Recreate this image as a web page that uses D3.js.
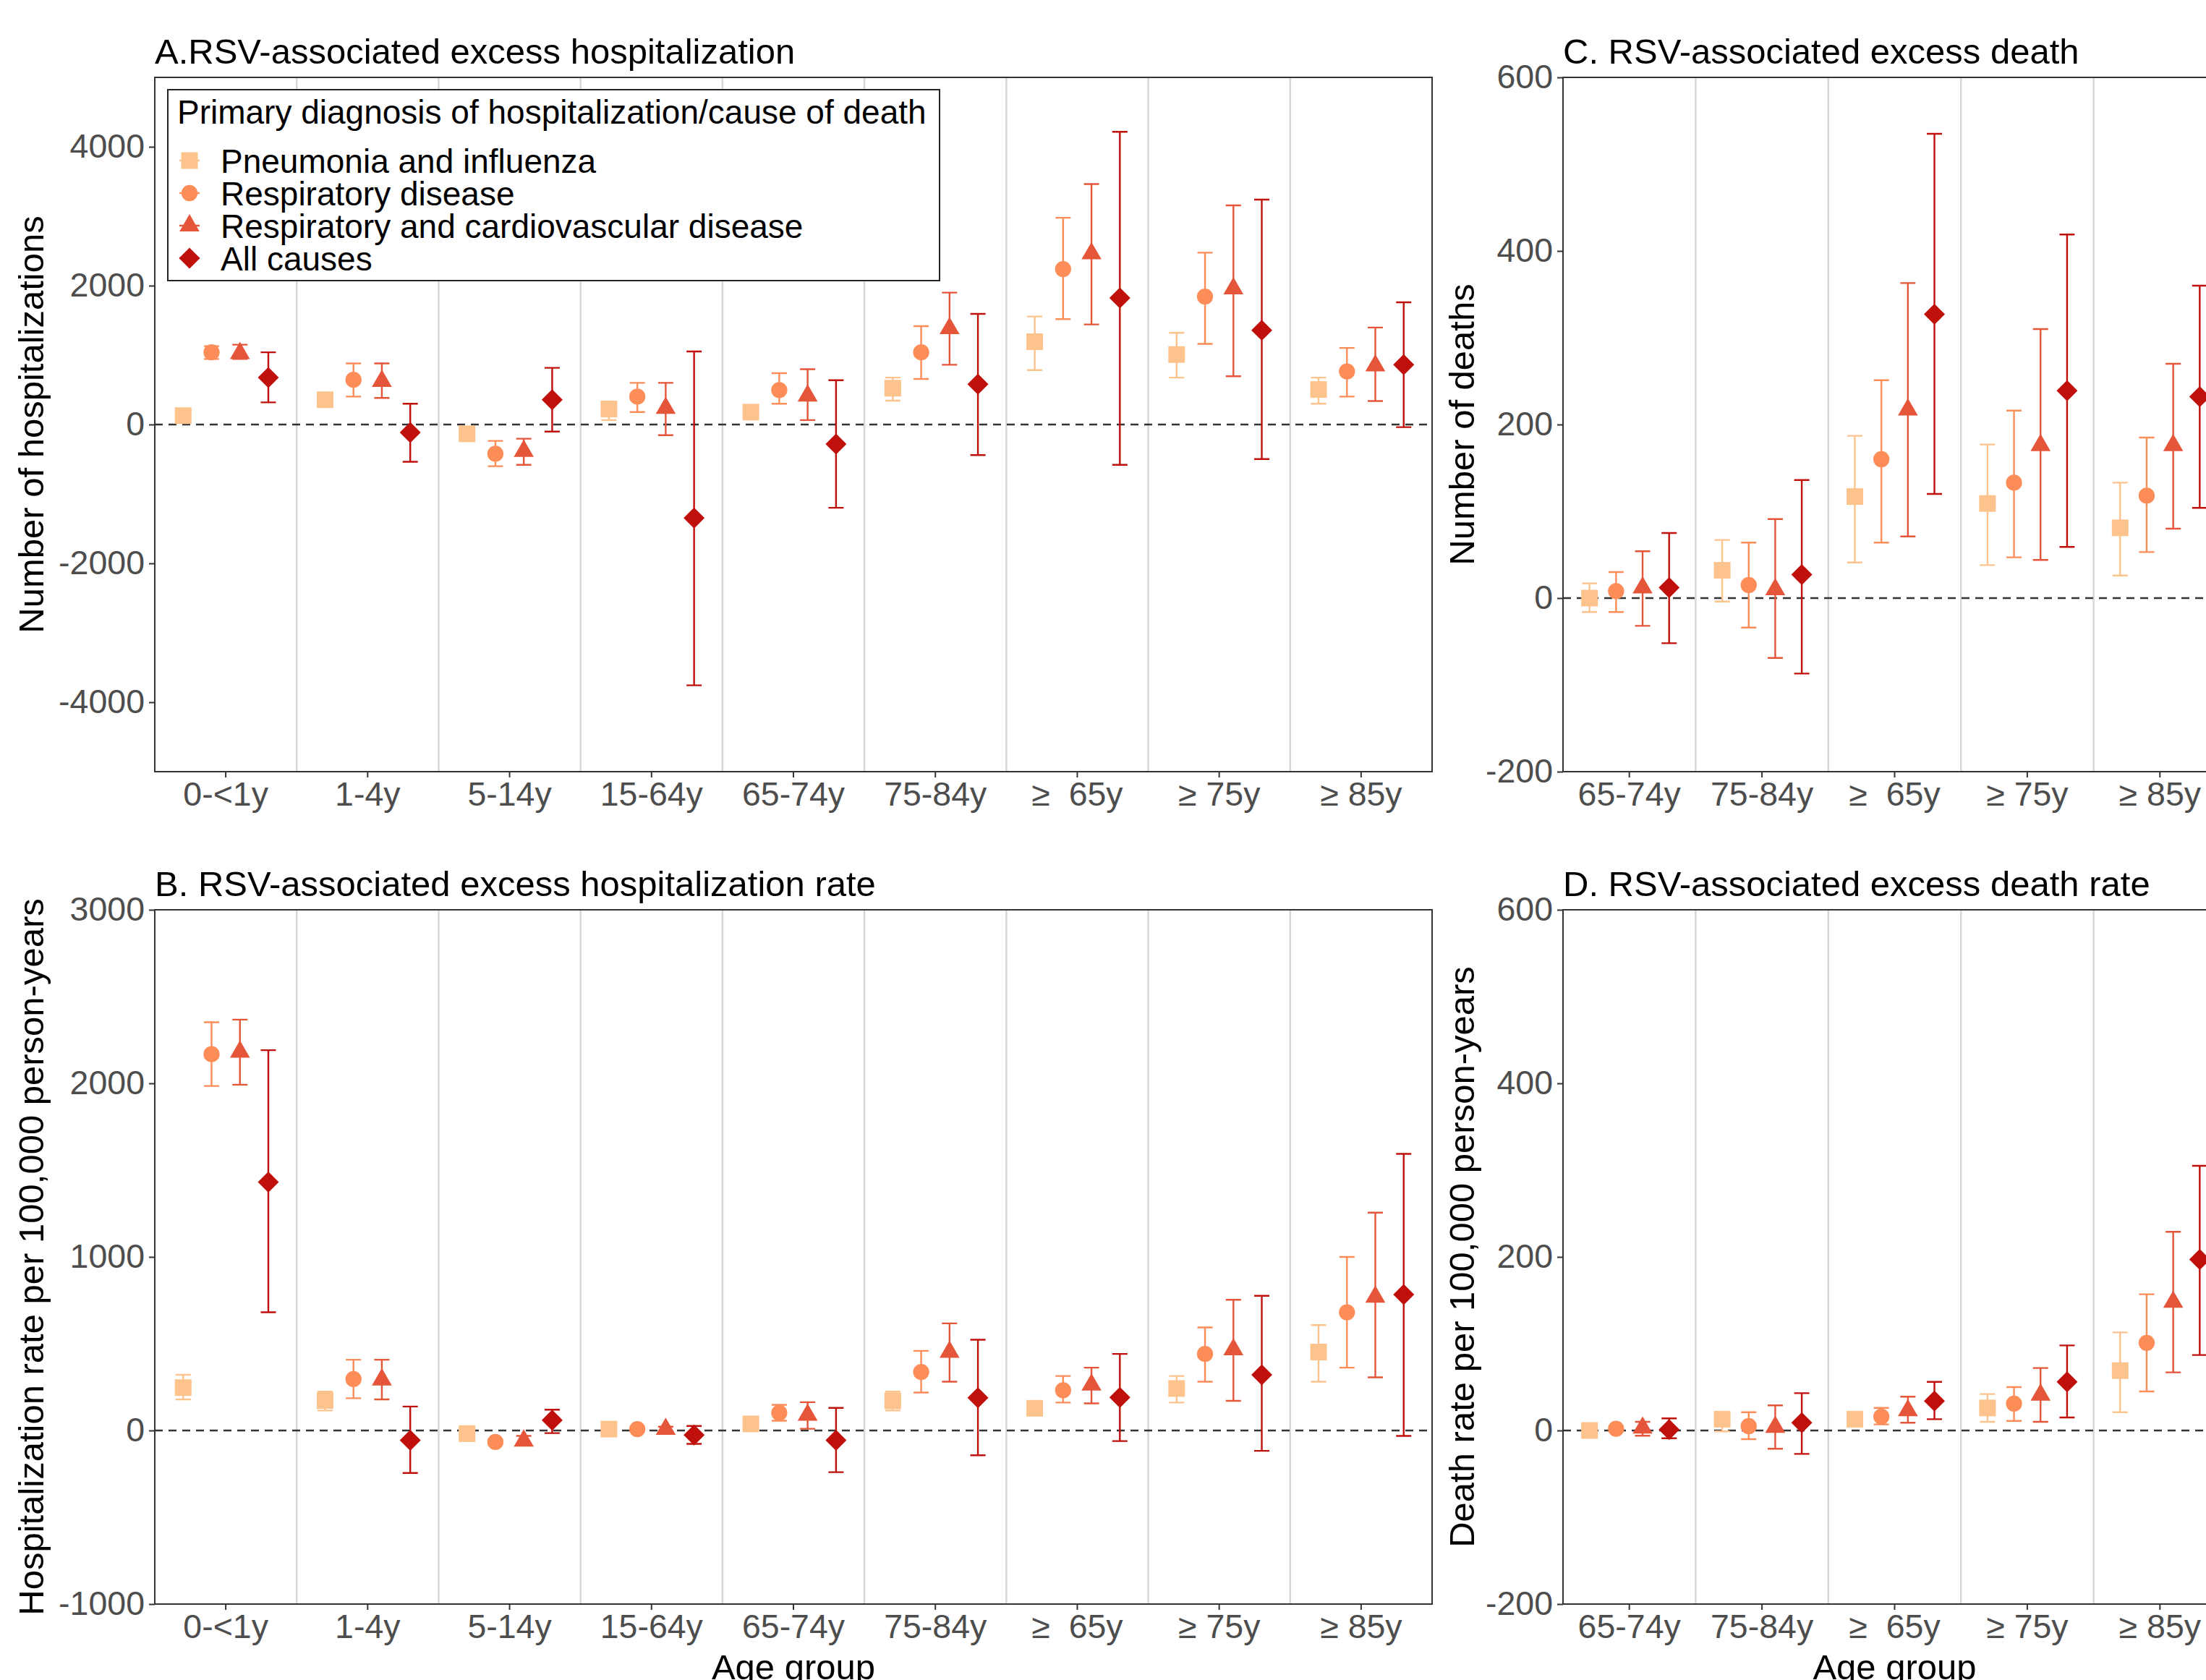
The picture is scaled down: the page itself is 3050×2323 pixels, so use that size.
<!DOCTYPE html>
<html>
<head>
<meta charset="utf-8">
<script src="https://cdn.jsdelivr.net/npm/d3@7"></script>
<style>
  body { margin: 0; overflow: hidden; background: #fff; }
  svg { font-family: "Liberation Sans", Arial, sans-serif; }
</style>
</head>
<body>
<svg id="chart" width="3100" height="2323"></svg>
<script>
// age groups
var groupsAll = ["0-<1y", "1-4y", "5-14y", "15-64y", "65-74y", "75-84y", "\u2265  65y", "\u2265 75y", "\u2265 85y"];
var groupsOld = ["65-74y", "75-84y", "\u2265  65y", "\u2265 75y", "\u2265 85y"];

var causes = ["Pneumonia and influenza", "Respiratory disease",
              "Respiratory and cardiovascular disease", "All causes"];
var colors = ["#FDC38D", "#FC8D59", "#E5553A", "#C0100C"];

// A. excess hospitalizations (rows = causes, cols = groupsAll)
var hospEst = [
  [128, 357, -134, 223, 179, 523, 1193, 1008, 504],
  [1040, 644, -421, 402, 497, 1040, 2239, 1843, 765],
  [1027, 625, -383, 236, 415, 1384, 2462, 1958, 848],
  [676, -115, 357, -1346, -281, 580, 1824, 1358, 861]
];
var hospLo = [
  [75, 300, -180, 64, 130, 344, 784, 676, 300],
  [944, 402, -600, 179, 300, 657, 1518, 1161, 402],
  [944, 383, -580, -153, 64, 861, 1441, 695, 338],
  [319, -536, -102, -3757, -1199, -440, -580, -497, -38]
];
var hospHi = [
  [180, 420, -90, 330, 230, 676, 1556, 1320, 676],
  [1129, 880, -236, 600, 740, 1416, 2978, 2475, 1103],
  [1150, 880, -204, 600, 797, 1900, 3463, 3157, 1397],
  [1040, 300, 816, 1052, 638, 1594, 4216, 3240, 1760]
];

// B. excess hospitalization rate per 100,000
var hrateEst = [
  [247, 173, -18, 8, 38, 171, 128, 242, 452],
  [2168, 296, -66, 8, 102, 337, 232, 441, 681],
  [2181, 293, -59, 8, 89, 452, 263, 467, 770],
  [1431, -56, 59, -26, -56, 189, 191, 321, 783]
];
var hrateLo = [
  [179, 115, -35, -5, 20, 115, 100, 161, 281],
  [1985, 186, -80, -3, 56, 219, 161, 281, 362],
  [1992, 179, -82, -3, 10, 281, 156, 171, 306],
  [681, -245, -15, -77, -240, -143, -61, -117, -31]
];
var hrateHi = [
  [321, 224, 0, 20, 55, 224, 155, 314, 607],
  [2352, 408, -52, 20, 148, 459, 314, 594, 1000],
  [2367, 408, -31, 22, 163, 617, 362, 753, 1255],
  [2191, 138, 120, 26, 130, 523, 441, 776, 1594]
];

// C. excess deaths (cols = groupsOld)
var deathEst = [
  [0, 32, 117, 109, 81],
  [8, 15, 160, 133, 118],
  [12, 10, 217, 176, 176],
  [12, 27, 327, 239, 232]
];
var deathLo = [
  [-16, -4, 41, 38, 26],
  [-16, -34, 64, 47, 53],
  [-32, -69, 71, 44, 80],
  [-52, -87, 120, 59, 104]
];
var deathHi = [
  [17, 67, 187, 177, 133],
  [30, 64, 251, 216, 185],
  [54, 91, 363, 310, 270],
  [75, 136, 535, 419, 360]
];

// D. excess death rate per 100,000
var drateEst = [
  [0, 13, 13, 26, 69],
  [2, 5, 16, 31, 101],
  [3, 4, 23, 41, 148],
  [1, 9, 34, 56, 197]
];
var drateLo = [
  [-3, -1, 8, 10, 21],
  [-1, -10, 7, 11, 45],
  [-6, -21, 9, 10, 67],
  [-9, -27, 13, 15, 87]
];
var drateHi = [
  [3, 20, 18, 42, 113],
  [5, 21, 26, 50, 157],
  [10, 29, 39, 72, 229],
  [14, 43, 56, 98, 305]
];

var svg = d3.select("#chart");

// marker shapes, ggplot pch 15/16/17/18 (diamond = rotated square)
var shapes = [
  d3.symbol().type(d3.symbolSquare).size(529),
  d3.symbol().type(d3.symbolCircle).size(390),
  d3.symbol().type(d3.symbolTriangle).size(330),
  d3.symbol().type(d3.symbolSquare).size(420)
];

function drawPanel(p) {
  var g = svg.append("g").attr("transform", "translate(" + p.left + "," + p.top + ")");

  var x = d3.scaleBand().domain(p.groups).range([0, p.width]);
  var dodge = d3.scaleBand().domain(d3.range(4)).range([0.1 * x.bandwidth(), 0.9 * x.bandwidth()]);
  var y = d3.scaleLinear().domain(p.domain).range([p.height, 0]);

  // vertical separators between age groups
  g.append("g").selectAll("line")
    .data(p.groups.slice(1))
    .enter().append("line")
      .attr("x1", d => x(d)).attr("x2", d => x(d))
      .attr("y1", 0).attr("y2", p.height)
      .attr("stroke", "#D6D6D6").attr("stroke-width", 2.5);

  // zero reference
  g.append("line")
    .attr("x1", 0).attr("x2", p.width)
    .attr("y1", y(0)).attr("y2", y(0))
    .attr("stroke", "#333").attr("stroke-width", 2.5)
    .attr("stroke-dasharray", "11,8");

  // error bars then points, one series at a time
  for (var k = 0; k < 4; k++) {
    var rows = p.groups.map((grp, i) => ({
      cx: x(grp) + dodge(k) + dodge.bandwidth() / 2,
      est: p.est[k][i], lo: p.lo[k][i], hi: p.hi[k][i]
    }));
    var eb = g.append("g").attr("stroke", colors[k]).attr("stroke-width", 2.4).attr("fill", "none");
    eb.selectAll("path").data(rows).enter().append("path")
      .attr("d", d => "M" + (d.cx - 10.5) + "," + y(d.hi) + "H" + (d.cx + 10.5) +
                      "M" + d.cx + "," + y(d.hi) + "V" + y(d.lo) +
                      "M" + (d.cx - 10.5) + "," + y(d.lo) + "H" + (d.cx + 10.5));
    g.append("g").selectAll("path").data(rows).enter().append("path")
      .attr("d", shapes[k]())
      .attr("fill", colors[k])
      .attr("transform", d => "translate(" + d.cx + "," + y(d.est) + ")" + (k == 3 ? " rotate(45)" : ""));
  }

  // panel border
  g.append("rect")
    .attr("width", p.width).attr("height", p.height)
    .attr("fill", "none").attr("stroke", "#333").attr("stroke-width", 2);

  // axes
  var ya = g.append("g").call(d3.axisLeft(y).tickValues(p.ticks).tickSize(8).tickPadding(6)
    .tickFormat(d => String(d)));
  var xa = g.append("g").attr("transform", "translate(0," + p.height + ")")
    .call(d3.axisBottom(x).tickSize(8).tickPadding(6));
  [ya, xa].forEach(function(a) {
    a.attr("font-family", null).attr("font-size", null);
    a.select(".domain").remove();
    a.selectAll(".tick line").attr("stroke", "#333").attr("stroke-width", 2);
    a.selectAll(".tick text")
      .attr("fill", "#4D4D4D")
      .style("font-size", "46.5px")
      .style("white-space", "pre");
  });

  // titles
  g.append("text")
    .attr("x", 0).attr("y", -19)
    .style("font-size", "49px")
    .text(p.title);

  svg.append("text")
    .attr("transform", "translate(" + p.yTitleX + "," + (p.top + p.height / 2) + ") rotate(-90)")
    .attr("text-anchor", "middle")
    .style("font-size", "49px")
    .text(p.yTitle);

  if (p.xTitle) {
    g.append("text")
      .attr("x", p.width / 2).attr("y", p.height + 104)
      .attr("text-anchor", "middle")
      .style("font-size", "49px")
      .text(p.xTitle);
  }
  return g;
}

drawPanel({
  left: 214, top: 107, width: 1766, height: 960,
  groups: groupsAll, domain: [-5000, 5000], ticks: [-4000, -2000, 0, 2000, 4000],
  est: hospEst, lo: hospLo, hi: hospHi,
  title: "A.RSV-associated excess hospitalization",
  yTitle: "Number of hospitalizations", yTitleX: 60
});
drawPanel({
  left: 214, top: 1258, width: 1766, height: 960,
  groups: groupsAll, domain: [-1000, 3000], ticks: [-1000, 0, 1000, 2000, 3000],
  est: hrateEst, lo: hrateLo, hi: hrateHi,
  title: "B. RSV-associated excess hospitalization rate",
  yTitle: "Hospitalization rate per 100,000 person-years", yTitleX: 60,
  xTitle: "Age group"
});
drawPanel({
  left: 2161, top: 107, width: 917, height: 960,
  groups: groupsOld, domain: [-200, 600], ticks: [-200, 0, 200, 400, 600],
  est: deathEst, lo: deathLo, hi: deathHi,
  title: "C. RSV-associated excess death",
  yTitle: "Number of deaths", yTitleX: 2038
});
drawPanel({
  left: 2161, top: 1258, width: 917, height: 960,
  groups: groupsOld, domain: [-200, 600], ticks: [-200, 0, 200, 400, 600],
  est: drateEst, lo: drateLo, hi: drateHi,
  title: "D. RSV-associated excess death rate",
  yTitle: "Death rate per 100,000 person-years", yTitleX: 2038,
  xTitle: "Age group"
});

// legend inside panel A
var lg = svg.append("g").attr("transform", "translate(232,124)");
lg.append("rect")
  .attr("width", 1067).attr("height", 264)
  .attr("fill", "#fff").attr("stroke", "#222").attr("stroke-width", 2);
lg.append("text")
  .attr("x", 13).attr("y", 47)
  .style("font-size", "46px")
  .text("Primary diagnosis of hospitalization/cause of death");
var items = lg.selectAll("g.item").data(causes).enter().append("g")
  .attr("class", "item")
  .attr("transform", (d, i) => "translate(30," + (98 + i * 45) + ")");
items.append("line")
  .attr("x1", -14).attr("x2", 14)
  .attr("stroke", (d, i) => colors[i]).attr("stroke-width", 2.4);
items.append("path")
  .attr("d", (d, i) => shapes[i]())
  .attr("fill", (d, i) => colors[i])
  .attr("transform", (d, i) => i == 3 ? "rotate(45)" : null);
items.append("text")
  .attr("x", 43).attr("y", 17)
  .style("font-size", "46px")
  .text(d => d);
</script>
</body>
</html>
